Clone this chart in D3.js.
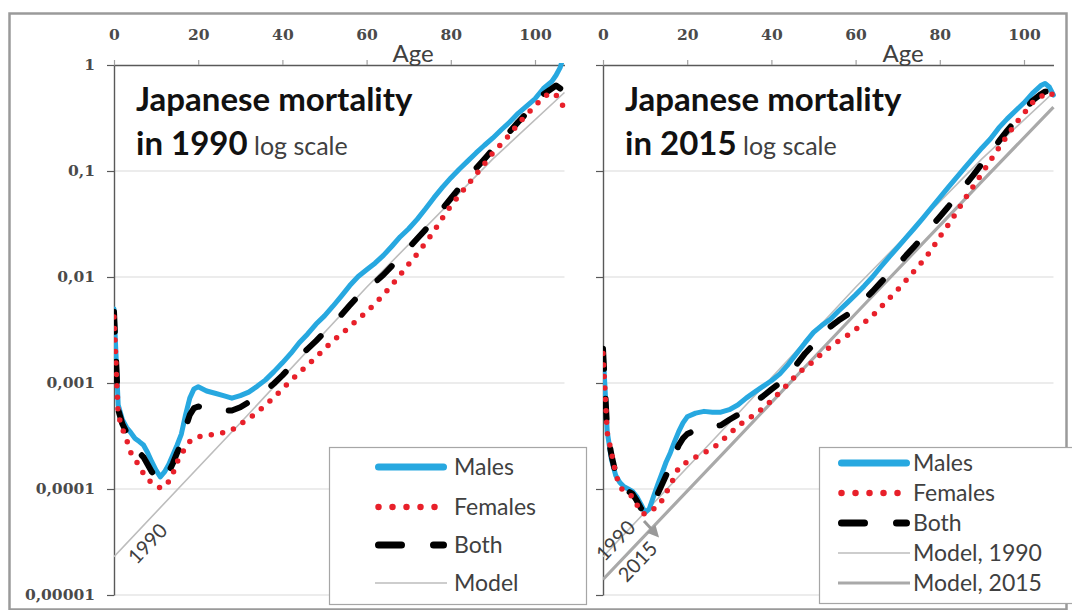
<!DOCTYPE html>
<html><head><meta charset="utf-8">
<script src="https://cdn.jsdelivr.net/npm/d3@7"></script>
<style>body{margin:0;background:#fff}svg{display:block}</style>
</head><body>
<svg id="c" width="1072" height="610"></svg>
<script>
// ---------- DATA ----------
const ages = [0,1,2,3,4,5,6,7,8,9,10,11,12,13,14,15,16,17,18,19,20,22,24,26,28,30,32,34,36,38,40,42,44,46,48,50,52,54,56,58,60,62,64,66,68,70,72,74,76,78,80,82,84,86,88,90,92,94,96,98,100,102,104,105,106,107];

const males1990 = [0.0050,0.00062,0.00045,0.00038,0.00034,0.00030,0.00028,0.00026,0.00022,0.00018,0.00015,0.00013,0.000145,0.00017,0.00021,0.00026,0.00033,0.00050,0.00072,0.00088,0.00092,
0.00084,0.00080,0.00076,0.00072,0.00076,0.00082,0.00093,0.00107,0.00128,0.00155,0.0019,0.0024,0.0029,0.0036,0.0043,0.0053,0.0066,0.0083,0.0101,0.0117,0.0135,0.0160,0.0195,0.0240,0.0285,0.035,0.044,0.056,0.070,0.086,0.104,0.124,0.148,0.175,0.205,0.245,0.29,0.35,0.41,0.48,0.60,0.70,0.80,0.95,1.3];
const females1990 = [0.0042,0.00050,0.00037,0.00029,0.00022,0.00019,0.000165,0.00014,0.000125,0.000113,0.000106,0.000103,0.000104,0.000118,0.00014,0.00018,0.00021,0.00025,0.00028,0.00030,0.00031,
0.00032,0.00033,0.00034,0.00036,0.00041,0.00046,0.00053,0.00062,0.00073,0.00088,0.00105,0.00125,0.00148,0.00175,0.0021,0.0025,0.0029,0.0034,0.0040,0.0047,0.0056,0.0068,0.0084,0.0105,0.0132,0.0165,0.021,0.027,0.036,0.047,0.059,0.074,0.093,0.117,0.148,0.18,0.22,0.28,0.34,0.41,0.50,0.55,0.52,0.45,0.39];
const both1990 = [0.0047,0.00056,0.00041,0.00034,0.00028,0.00025,0.00022,0.00020,0.00017,0.000145,0.000128,0.000117,0.000125,0.000145,0.000175,0.00022,0.00027,0.00038,0.00050,0.00058,0.00060,
0.00058,0.00056,0.00055,0.00055,0.00059,0.00066,0.00074,0.00084,0.00099,0.00118,0.00143,0.00175,0.0021,0.0025,0.0030,0.0036,0.0044,0.0054,0.0066,0.0077,0.0089,0.0105,0.0127,0.0155,0.0188,0.023,0.028,0.035,0.044,0.055,0.069,0.086,0.106,0.130,0.160,0.195,0.235,0.29,0.35,0.42,0.53,0.60,0.64,0.60,0.75];

const males2015 = [0.0021,0.00035,0.00019,0.000135,0.000115,0.000105,0.00010,0.000095,0.000085,0.000072,0.000060,0.000065,0.000085,0.00011,0.00014,0.00018,0.00022,0.00028,0.00035,0.00042,0.00048,
0.00052,0.00054,0.00053,0.00053,0.00056,0.00062,0.00072,0.00082,0.00093,0.00105,0.00122,0.0015,0.0019,0.0024,0.0030,0.0035,0.0040,0.0048,0.0057,0.0068,0.0082,0.0100,0.0125,0.0155,0.0190,0.0235,0.029,0.036,0.045,0.056,0.070,0.087,0.108,0.134,0.165,0.20,0.255,0.31,0.37,0.44,0.54,0.64,0.67,0.62,0.52];
const females2015 = [0.0019,0.00034,0.00022,0.00014,0.000105,0.000095,0.00009,0.000085,0.000072,0.00006,0.000058,0.000062,0.000065,0.000068,0.000078,0.000092,0.00011,0.00013,0.00016,0.00017,0.00018,
0.00020,0.00022,0.00024,0.00028,0.00033,0.00039,0.00045,0.00050,0.00058,0.00068,0.00082,0.00098,0.0012,0.0014,0.0016,0.0019,0.0022,0.0025,0.0028,0.0032,0.0037,0.0043,0.0052,0.0063,0.0076,0.0093,0.0115,0.0142,0.018,0.024,0.031,0.041,0.055,0.072,0.095,0.125,0.165,0.215,0.28,0.35,0.44,0.50,0.54,0.55,0.52];
const both2015 = [0.0021,0.00035,0.00021,0.00014,0.00011,0.00010,0.000095,0.00009,0.000078,0.000066,0.00006,0.000063,0.000075,0.00009,0.00011,0.000135,0.000165,0.00021,0.00026,0.00030,0.00033,
0.00036,0.00038,0.00039,0.00040,0.00045,0.00050,0.00058,0.00066,0.00075,0.00087,0.0010,0.00122,0.0015,0.0019,0.0023,0.0028,0.0034,0.0039,0.0044,0.0052,0.0061,0.0073,0.0089,0.0108,0.0130,0.016,0.0195,0.024,0.030,0.037,0.046,0.058,0.073,0.092,0.117,0.148,0.19,0.24,0.30,0.37,0.46,0.53,0.56,0.57,0.55];

const modelAges = [0,30,60,90,107];
const model1990 = [2.3e-5,4.2e-4,0.0080,0.13,0.55];
const model2015 = [1.4e-5,2.5e-4,0.0045,0.080,0.40];

const xTickValues = [0,20,40,60,80,100];
const yTickValues = [1,0.1,0.01,0.001,0.0001,0.00001];
const yTickLabels = ["1","0,1","0,01","0,001","0,0001","0,00001"];

const legendLeft = ["Males","Females","Both","Model"];
const legendRight = ["Males","Females","Both","Model, 1990","Model, 2015"];

// ---------- STYLE ----------
const C = {blue:"#27A8E0", red:"#E8202A", black:"#000", m1990:"#BDBDBD", m2015:"#A9A9A9",
  axis:"#595959", grid:"#D9D9D9", text:"#404040"};
const SANS = "Lato, 'Open Sans', sans-serif";
const SERIF = "'DejaVu Serif', 'Liberation Serif', serif";

const svg = d3.select("#c");
svg.append("rect").attr("x",9.5).attr("y",13.5).attr("width",1057).attr("height",596)
  .attr("fill","#fff").attr("stroke","#9a9a9a").attr("stroke-width",2.5);

const yTop = 65, yBot = 595;
const y = d3.scaleLog().domain([1e-5,1]).range([yBot,yTop]);
const pxYear = 4.21;

const styles = {
  males:{stroke:C.blue,w:5,dash:null,cap:"round"},
  females:{stroke:C.red,w:5.5,dash:"0 11.5",cap:"round"},
  both:{stroke:C.black,w:6,dash:"20 30",cap:"round"},
  m1990:{stroke:C.m1990,w:1.6,dash:null,cap:"butt"},
  m2015:{stroke:C.m2015,w:3.2,dash:null,cap:"butt"}
};

function panel(opts){
  const x0 = opts.x0;
  const x = d3.scaleLinear().domain([0,107]).range([x0, x0+107*pxYear]);
  const g = svg.append("g");
  const clipId = "clip"+opts.year;
  svg.append("clipPath").attr("id",clipId).append("rect")
    .attr("x",x0).attr("y",yTop-2).attr("width",107*pxYear+4).attr("height",yBot-yTop+4);

  // gridlines
  g.append("g").selectAll("line").data(yTickValues.slice(1)).join("line")
    .attr("x1",x0).attr("x2",x(107)).attr("y1",d=>y(d)).attr("y2",d=>y(d))
    .attr("stroke",C.grid).attr("stroke-width",1.2);

  // y axis
  const ya = g.append("g").attr("transform",`translate(${x0},0)`)
    .call(d3.axisLeft(y).tickValues(yTickValues).tickSize(7).tickSizeOuter(0).tickPadding(12)
      .tickFormat((d,i)=> opts.labels ? yTickLabels[i] : ""));
  // x axis (top)
  const xa = g.append("g").attr("transform",`translate(0,${yTop})`)
    .call(d3.axisTop(x).tickValues(xTickValues).tickSize(5).tickSizeOuter(0).tickPadding(20));
  [ya,xa].forEach(a=>{
    a.select(".domain").attr("stroke",C.axis).attr("stroke-width",1.4);
    a.selectAll(".tick line").attr("stroke",C.axis).attr("stroke-width",1.2);
    a.selectAll("text").attr("font-family",SERIF).attr("font-weight","bold")
      .attr("font-size",15.5).attr("fill","#4a4a4a");
  });
  xa.selectAll(".tick line").attr("stroke","#a0a0a0");

  g.append("text").attr("x",opts.ageX).attr("y",62).attr("text-anchor","middle")
    .attr("font-family",SANS).attr("font-size",24).attr("fill",C.text).text("Age");

  // titles
  g.append("text").attr("x",x0+22).attr("y",111)
    .attr("font-family",SANS).attr("font-weight","bold").attr("font-size",33).attr("fill","#111")
    .text("Japanese mortality");
  const t2 = g.append("text").attr("x",x0+22).attr("y",155)
    .attr("font-family",SANS).attr("fill","#111");
  t2.append("tspan").attr("font-weight","bold").attr("font-size",33).text("in "+opts.year);
  t2.append("tspan").attr("font-size",25).attr("fill",C.text).text(" log scale");

  const line = d3.line().x(d=>x(d[0])).y(d=>y(d[1]));
  const lg = g.append("g").attr("clip-path",`url(#${clipId})`);
  const draw = (ax, vals, st) => lg.append("path")
    .attr("d", line(ax.map((a,i)=>[a,vals[i]])))
    .attr("fill","none").attr("stroke",st.stroke).attr("stroke-width",st.w)
    .attr("stroke-dasharray",st.dash).attr("stroke-linecap",st.cap).attr("stroke-linejoin","round");

  opts.models.forEach(m=>draw(modelAges, m.vals, styles[m.style]));
  draw(ages, opts.males, styles.males);
  draw(ages, opts.both, styles.both);
  draw(ages, opts.females, styles.females);

  return {x, g};
}

const L = panel({x0:114, year:"1990", labels:true, ageX:413,
  males:males1990, females:females1990, both:both1990,
  models:[{vals:model1990, style:"m1990"}]});
const R = panel({x0:603, year:"2015", labels:false, ageX:903,
  males:males2015, females:females2015, both:both2015,
  models:[{vals:model1990, style:"m1990"},{vals:model2015, style:"m2015"}]});

// rotation of the model lines for the labels
function modelAt(vals, age){
  return Math.pow(10, d3.scaleLinear().domain(modelAges).range(vals.map(Math.log10))(age));
}
const ang = Math.atan2(y(modelAt(model1990,30))-y(modelAt(model1990,0)), L.x(30)-L.x(0))*180/Math.PI;
function rotLabel(P, cx, cy, txt){
  P.g.append("text").attr("transform",`translate(${cx},${cy}) rotate(${ang})`)
    .attr("text-anchor","middle").attr("dominant-baseline","middle")
    .attr("font-family",SANS).attr("font-size",20).attr("fill",C.text).text(txt);
}
rotLabel(L, 149, 545, "1990");
rotLabel(R, 617, 542, "1990");
rotLabel(R, 639, 563, "2015");

// arrow from 1990 model to 2015 model (right panel)
svg.append("defs").append("marker").attr("id","ah").attr("viewBox","0 0 10 10")
  .attr("refX",5).attr("refY",5).attr("markerWidth",4).attr("markerHeight",4).attr("orient","auto")
  .append("path").attr("d","M0,0 L10,5 L0,10 z").attr("fill","#999");
R.g.append("line").attr("x1",644).attr("y1",521).attr("x2",655).attr("y2",533)
  .attr("stroke","#999").attr("stroke-width",3).attr("marker-end","url(#ah)");

// legends
function legend(box, items, keys, rowY, sx0, sx1, tx){
  const g = svg.append("g");
  g.append("rect").attr("x",box[0]+0.5).attr("y",box[1]+0.5).attr("width",box[2]).attr("height",box[3])
    .attr("fill","#fff").attr("stroke","#A6A6A6").attr("stroke-width",1.2);
  items.forEach((t,i)=>{
    const st = Object.assign({}, styles[keys[i]]);
    let w = st.w, dash = st.dash;
    if(keys[i]==="males") w = 7;
    if(keys[i]==="females"){ w = 6.5; dash = "0 14"; }
    if(keys[i]==="both"){ w = 7; dash = "23 32"; }
    const inset = (st.cap==="round") ? 3.5 : 0;
    g.append("line").attr("x1",sx0+inset).attr("x2",sx1-inset).attr("y1",rowY[i]).attr("y2",rowY[i])
      .attr("stroke",st.stroke).attr("stroke-width",w).attr("stroke-dasharray",dash)
      .attr("stroke-linecap",st.cap);
    g.append("text").attr("x",tx).attr("y",rowY[i]).attr("dy","0.36em")
      .attr("font-family",SANS).attr("font-size",23).attr("fill",C.text).text(t);
  });
}
legend([329,447,257,157], legendLeft, ["males","females","both","m1990"], [467,507,545,583], 375, 447, 454);
legend([819,447,260,156], legendRight, ["males","females","both","m1990","m2015"], [463,493,523,553,583], 838, 910, 913);
</script>
</body></html>
